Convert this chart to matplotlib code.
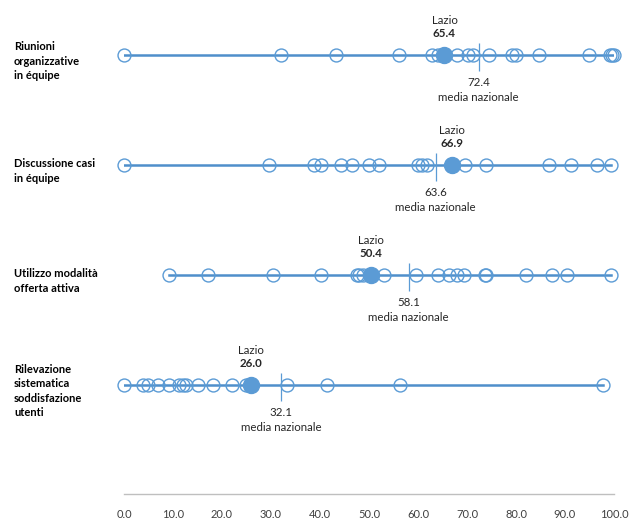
import numpy as np
import matplotlib
matplotlib.use("Agg")
import matplotlib.pyplot as plt
from matplotlib.transforms import blended_transform_factory

plt.rcParams["font.family"] = ["Lato", "DejaVu Sans"]

# Dati: valori regionali, Lazio e media nazionale per indicatore
categories = [
    "Riunioni\norganizzative\nin équipe",
    "Discussione casi\nin équipe",
    "Utilizzo modalità\nofferta attiva",
    "Rilevazione\nsistematica\nsoddisfazione\nutenti",
]

regioni_riunioni = [0.0, 32.0, 43.3, 56.1, 62.8, 64.0, 67.9, 70.3, 71.3, 74.4,
                    79.1, 80.1, 84.6, 94.9, 99.2, 99.5, 99.9]
regioni_discussione = [0.0, 29.6, 38.8, 40.3, 44.2, 46.6, 49.9, 52.1, 60.1, 60.9,
                       61.8, 69.5, 73.8, 86.8, 91.2, 96.5, 99.3]
regioni_offerta = [9.2, 17.2, 30.5, 40.2, 47.5, 48.0, 48.8, 53.1, 59.6, 64.0,
                   66.4, 67.9, 69.4, 73.7, 73.9, 82.0, 87.3, 90.5, 99.3]
regioni_soddisfazione = [0.0, 3.9, 4.8, 7.0, 9.2, 11.2, 12.0, 12.7, 15.0, 18.1,
                         22.0, 24.9, 33.2, 41.4, 56.3, 97.7]

lazio = [65.4, 66.9, 50.4, 26.0]
media_nazionale = [72.4, 63.6, 58.1, 32.1]

regioni = [regioni_riunioni, regioni_discussione, regioni_offerta, regioni_soddisfazione]

BLUE = "#5B9BD5"
LINE = "#4F8FCB"

fig = plt.figure(figsize=(6.43, 5.27), dpi=100)
W, H = 643, 527
x0, x100 = 124, 614
y_top, y_axis = 0, 494
ax = fig.add_axes([x0 / W, (H - y_axis) / H, (x100 - x0) / W, (y_axis - y_top) / H])
ax.set_xlim(0, 100)
ax.set_ylim(3.99, -0.5)

for i, vals in enumerate(regioni):
    v = np.array(vals + [lazio[i]])
    ax.plot([v.min(), v.max()], [i, i], color=LINE, lw=1.8, zorder=1)
    ax.plot(vals, [i] * len(vals), "o", ms=9.3, mfc="none", mec=BLUE, mew=1.0,
            zorder=2, clip_on=False)
    ax.plot([lazio[i]], [i], "o", ms=11.5, mfc=BLUE, mec=BLUE, zorder=3, clip_on=False)
    ax.vlines(media_nazionale[i], i - 0.11, i + 0.145, color=BLUE, lw=0.9, zorder=4)

    ax.annotate("Lazio", (lazio[i], i), xytext=(0, 35), textcoords="offset pixels",
                ha="center", va="center", fontsize=8.3, color="#262626")
    ax.annotate(f"{lazio[i]:.1f}", (lazio[i], i), xytext=(0, 22), textcoords="offset pixels",
                ha="center", va="center", fontsize=8.3, fontweight="bold", color="#262626")
    ax.annotate(f"{media_nazionale[i]:.1f}", (media_nazionale[i], i), xytext=(0, -27),
                textcoords="offset pixels", ha="center", va="center", fontsize=8.3,
                color="#262626")
    ax.annotate("media nazionale", (media_nazionale[i], i), xytext=(0, -42),
                textcoords="offset pixels", ha="center", va="center", fontsize=8.3,
                color="#262626")

trans = blended_transform_factory(fig.transFigure, ax.transData)
for i, cat in enumerate(categories):
    ax.text(14 / W, i + 6 / 110, cat, transform=trans, ha="left", va="center",
            fontsize=8, fontweight="bold", linespacing=1.4, color="#000000")

for s in ["top", "left", "right"]:
    ax.spines[s].set_visible(False)
ax.spines["bottom"].set_color("#BFBFBF")
ax.spines["bottom"].set_linewidth(1.0)
ax.set_yticks([])
ax.set_xticks(np.arange(0, 101, 10))
ax.set_xticklabels([f"{t:.1f}" for t in np.arange(0, 101, 10)])
ax.tick_params(axis="x", length=0, pad=11, labelsize=8, labelcolor="#404040")

fig.savefig("out.png", dpi=100)
